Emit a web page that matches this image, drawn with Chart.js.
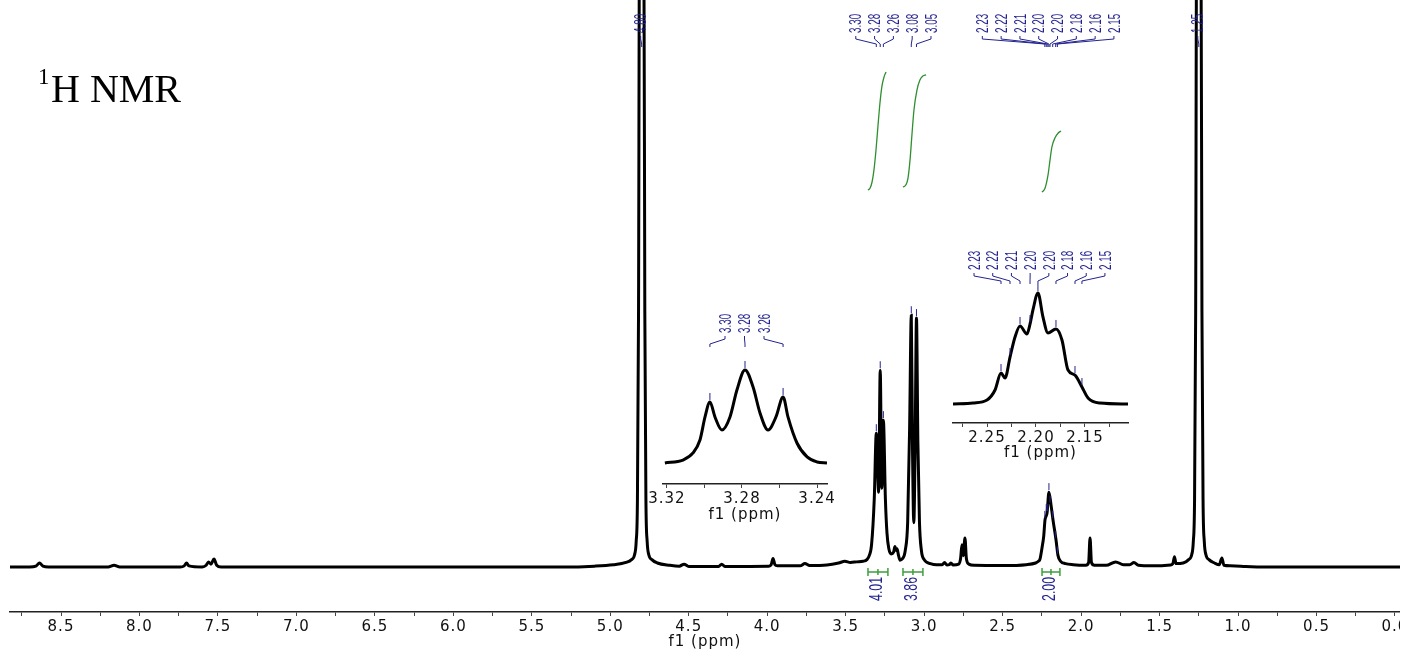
<!DOCTYPE html>
<html>
<head>
<meta charset="utf-8">
<script src="https://cdn.jsdelivr.net/npm/chart.js@4.4.1/dist/chart.umd.min.js"></script>
<style>
  html, body { margin: 0; padding: 0; background: #fff; }
  #wrap { position: relative; width: 1408px; height: 650px; overflow: hidden; }
  #main { position: absolute; left: 0; top: 0; width: 1400px; height: 650px; overflow: hidden; }
  #ins1 { position: absolute; left: 640px; top: 305px; }
  #ins2 { position: absolute; left: 925px; top: 245px; }
  .sup { position: absolute; left: 38px; top: 65px; font: 23px "Liberation Serif", "Times New Roman", serif; line-height: 1; }
  .ttl { position: absolute; left: 51px; top: 69px; font: 40px "Liberation Serif", "Times New Roman", serif; line-height: 1; }
</style>
</head>
<body>
<div id="wrap">
  <div id="main"><canvas id="c0" width="1412" height="650"></canvas></div>
  <div id="ins1"><canvas id="c1" width="210" height="218"></canvas></div>
  <div id="ins2"><canvas id="c2" width="225" height="216"></canvas></div>
  <span class="sup">1</span><span class="ttl">H NMR</span>
</div>
<script>
// 1H spectrum: [shift (ppm), relative intensity]
const spectrum = [
  [8.825, 0], [8.70, 0], [8.66, 0.15], [8.637, 0.7], [8.615, 0.15], [8.58, 0],
  [8.20, 0], [8.162, 0.3], [8.125, 0],
  [7.74, 0], [7.715, 0.2], [7.70, 0.7], [7.685, 0.2],
  [7.60, 0], [7.575, 0.3], [7.56, 0.9], [7.545, 0.5], [7.525, 1.4], [7.508, 0.3], [7.48, 0],
  [5.30, 0], [5.10, 0.15], [4.98, 0.4], [4.90, 0.8], [4.865, 1.3], [4.845, 2.2], [4.835, 4.5],
  [4.827, 12], [4.820, 45], [4.814, 110], [4.786, 110], [4.780, 45], [4.773, 12],
  [4.765, 4.5], [4.755, 2.2], [4.735, 1.3], [4.70, 0.7], [4.62, 0.3],
  [4.56, 0.15], [4.53, 0.5], [4.50, 0.1],
  [4.31, 0.1], [4.29, 0.5], [4.27, 0.1],
  [3.99, 0.15], [3.975, 0.4], [3.963, 1.5], [3.951, 0.4], [3.935, 0.2],
  [3.79, 0.2], [3.76, 0.6], [3.73, 0.25],
  [3.62, 0.35], [3.545, 0.7], [3.505, 1.0], [3.47, 0.8], [3.43, 0.9], [3.39, 1.0],
  [3.365, 1.3], [3.35, 2.0], [3.335, 4],
  [3.318, 12], [3.305, 23.6], [3.29, 13.2], [3.28, 34.7], [3.27, 13.9], [3.26, 25.9],
  [3.247, 12], [3.237, 6], [3.225, 3.2],
  [3.21, 2.3], [3.195, 2.6], [3.186, 3.6], [3.179, 2.9], [3.173, 3.2], [3.163, 2.0],
  [3.154, 1.2], [3.14, 1.4],
  [3.12, 3], [3.105, 8], [3.093, 24], [3.082, 44.4], [3.074, 20], [3.066, 7.8],
  [3.058, 20], [3.049, 43.9], [3.040, 22], [3.03, 8], [3.018, 3], [3.00, 1.3],
  [2.96, 0.6], [2.92, 0.4], [2.885, 0.4], [2.87, 0.8], [2.855, 0.35], [2.84, 0.4],
  [2.83, 0.7], [2.815, 0.35],
  [2.78, 0.5], [2.768, 1.5], [2.759, 3.9], [2.751, 2.0], [2.740, 5.1], [2.731, 1.5],
  [2.715, 0.5], [2.68, 0.3],
  [2.50, 0.25], [2.35, 0.4], [2.29, 0.7], [2.272, 1.0], [2.262, 1.4], [2.249, 3.4],
  [2.238, 5.5], [2.230, 8.3], [2.217, 9.5], [2.205, 13.2], [2.192, 11], [2.179, 8.3],
  [2.160, 4.8], [2.147, 2.0], [2.13, 1.0], [2.10, 0.6], [2.05, 0.4],
  [1.97, 0.3], [1.952, 0.8], [1.943, 5.1], [1.934, 0.8], [1.915, 0.3],
  [1.84, 0.3], [1.78, 0.9], [1.73, 0.4], [1.69, 0.4], [1.663, 0.8], [1.635, 0.3], [1.55, 0.2],
  [1.43, 0.35], [1.415, 0.6], [1.405, 1.8], [1.395, 0.6],
  [1.35, 0.7], [1.315, 1.3], [1.295, 2.2], [1.285, 4.5], [1.277, 12], [1.270, 45],
  [1.264, 110], [1.236, 110], [1.230, 45], [1.223, 12], [1.215, 4.5], [1.205, 2.2],
  [1.185, 1.3], [1.15, 0.7],
  [1.12, 0.4], [1.103, 1.6], [1.09, 0.3],
  [1.05, 0.2], [0.95, 0.1], [0.85, 0], [-0.032, 0]
];

// integral curves (same intensity units as the spectrum)
const integral1 = [[3.358, 66.5], [3.345, 66.8], [3.332, 67.9], [3.320, 70.0], [3.307, 73.5],
  [3.294, 77.9], [3.281, 82.0], [3.269, 84.8], [3.256, 86.4], [3.243, 87.3]];
const integral2 = [[3.135, 67.0], [3.116, 67.4], [3.103, 68.6], [3.090, 71.8], [3.078, 76.2],
  [3.065, 80.6], [3.046, 84.1], [3.027, 85.9], [3.008, 86.6], [2.988, 86.8]];
const integral3 = [[2.249, 66.1], [2.230, 66.8], [2.211, 69.1], [2.198, 71.8], [2.186, 74.1],
  [2.166, 75.7], [2.147, 76.5], [2.128, 76.9]];
const integralRanges = [[3.358, 3.231], [3.135, 3.008], [2.249, 2.135]];
const integralText = ['4.01', '3.86', '2.00'];

// picked peaks
const peakPpm = [[4.80], [3.305, 3.28, 3.26, 3.082, 3.049],
  [2.231, 2.222, 2.212, 2.205, 2.198, 2.181, 2.162, 2.151], [1.25]];
const peakText = [['4.80'], ['3.30', '3.28', '3.26', '3.08', '3.05'],
  ['2.23', '2.22', '2.21', '2.20', '2.20', '2.18', '2.16', '2.15'], ['1.25']];

// inset 1: triplet near 3.28
const inset1 = [[3.3211, 0], [3.3115, 3.2], [3.3061, 10.8], [3.3024, 24.7], [3.2997, 49.5],
  [3.2971, 65.6], [3.2944, 49.5], [3.2907, 35.5], [3.2864, 49.5], [3.2827, 78.5],
  [3.2784, 100], [3.2741, 81.7], [3.2704, 53.8], [3.2661, 35.5], [3.2619, 49.5],
  [3.2581, 71], [3.2555, 49.5], [3.2507, 21.5], [3.2453, 6.5], [3.24, 1.1], [3.2347, 0]];
const inset1Peaks = [3.2971, 3.2784, 3.2581];
const inset1Text = ['3.30', '3.28', '3.26'];

// inset 2: multiplet near 2.20
const inset2 = [[2.2847, 0], [2.2643, 0.9], [2.25, 3.6], [2.2418, 12.6], [2.2357, 27.9],
  [2.2316, 23.4], [2.2265, 42.3], [2.2214, 60.4], [2.2163, 70.3], [2.2092, 63.1],
  [2.2061, 72], [2.2031, 84.7], [2.198, 100], [2.1929, 78.4], [2.1878, 64], [2.1796, 67.6],
  [2.1735, 57.7], [2.1673, 30.6], [2.1602, 26.1], [2.1531, 15.3], [2.1469, 5.4],
  [2.1347, 0.9], [2.1061, 0]];
const inset2Peaks = [2.2357, 2.2265, 2.2163, 2.2061, 2.198, 2.1796, 2.1602, 2.1531];
const inset2Text = ['2.23', '2.22', '2.21', '2.20', '2.20', '2.18', '2.16', '2.15'];

const BLUE = '#23238f';
const GREEN = '#3f9f3f';
const AXIS_FONT = { family: '"DejaVu Sans", Verdana, sans-serif', size: 15, lineHeight: 1.1 };

const toXY = arr => arr.map(([x, y]) => ({ x, y }));

function vText(ctx, s, x, yBottom, size, squeeze) {
  ctx.save();
  ctx.letterSpacing = '0px';
  ctx.translate(x, yBottom);
  ctx.rotate(-Math.PI / 2);
  ctx.scale(squeeze, 1);
  ctx.font = size + 'px "Liberation Sans", Arial, sans-serif';
  ctx.fillStyle = BLUE;
  ctx.textAlign = 'left';
  ctx.textBaseline = 'middle';
  ctx.fillText(s, 0, 1);
  ctx.restore();
}

function nearestY(data, p) {
  let best = data[0];
  for (const d of data) if (Math.abs(d.x - p) < Math.abs(best.x - p)) best = d;
  return best.y;
}

function drawGroup(chart, ppms, texts, st) {
  const { ctx } = chart;
  const xs = chart.scales.x, ys = chart.scales.y;
  const data = chart.data.datasets[0].data;
  const px = ppms.map(p => xs.getPixelForValue(p));
  const mid = (Math.min(...px) + Math.max(...px)) / 2 + st.shift;
  const n = ppms.length;
  const tb = st.textBottom;
  ctx.save();
  ctx.strokeStyle = BLUE;
  ctx.lineWidth = 1;
  ppms.forEach((p, i) => {
    const lx = n === 1 ? px[i] - 1 : mid + (i - (n - 1) / 2) * st.gap;
    vText(ctx, texts[i], lx, tb, st.size, st.squeeze);
    ctx.beginPath();
    ctx.moveTo(lx, tb + 3);
    ctx.lineTo(lx, tb + 6);
    ctx.lineTo(px[i], tb + 11);
    ctx.lineTo(px[i], tb + 14);
    ctx.stroke();
    const top = ys.getPixelForValue(nearestY(data, p));
    if (top > st.minTop) {
      ctx.beginPath();
      ctx.moveTo(px[i], top - 9);
      ctx.lineTo(px[i], top - 2);
      ctx.stroke();
    }
  });
  ctx.restore();
}

const spacing = {
  id: 'spacing',
  beforeLayout(c) { c.ctx.letterSpacing = '1px'; },
  beforeDraw(c) { c.ctx.letterSpacing = '1px'; }
};

function xAxis(min, max, step, boxHeight, labelFn) {
  return {
    type: 'linear', reverse: true, min, max,
    afterFit: s => { s.height = boxHeight; },
    border: { color: '#222', width: 1.5 },
    grid: { drawOnChartArea: false, color: '#444', tickLength: 4, lineWidth: 1 },
    ticks: {
      stepSize: step, includeBounds: false, autoSkip: false, maxRotation: 0,
      padding: 3, color: '#111', font: AXIS_FONT, callback: labelFn
    },
    title: { display: true, text: 'f1 (ppm)', color: '#111', padding: 0, font: AXIS_FONT }
  };
}

const common = {
  responsive: false,
  animation: false,
  events: [],
  plugins: { legend: { display: false }, tooltip: { enabled: false } }
};

const lineSet = (data, color, width) => ({
  data: toXY(data), borderColor: color, borderWidth: width, pointRadius: 0,
  fill: false, cubicInterpolationMode: 'monotone'
});

// main spectrum
new Chart(document.getElementById('c0'), {
  type: 'line',
  data: {
    datasets: [
      lineSet(spectrum, '#000', 3),
      lineSet(integral1, '#2f8f2f', 1.3),
      lineSet(integral2, '#2f8f2f', 1.3),
      lineSet(integral3, '#2f8f2f', 1.3)
    ]
  },
  options: {
    ...common,
    layout: { padding: { left: 10, right: 12, top: 0, bottom: 0 } },
    scales: {
      x: xAxis(-0.032, 8.825, 0.25, 38,
        v => Math.abs(v * 2 - Math.round(v * 2)) < 1e-6 ? v.toFixed(1) : ''),
      y: { display: false, min: -7.94, max: 100 }
    }
  },
  plugins: [spacing, {
    id: 'annotations',
    afterDatasetsDraw(chart) {
      const st = { textBottom: 33, size: 17, squeeze: 0.58, gap: 18.8, shift: -3, minTop: 60 };
      peakPpm.forEach((g, k) => drawGroup(chart, g, peakText[k], st));
      const { ctx } = chart;
      const xs = chart.scales.x, ys = chart.scales.y;
      const yb = ys.getPixelForValue(0) + 5;
      ctx.save();
      ctx.strokeStyle = GREEN;
      ctx.lineWidth = 1.5;
      integralRanges.forEach(([a, b], i) => {
        const x1 = xs.getPixelForValue(a), x2 = xs.getPixelForValue(b);
        ctx.beginPath();
        ctx.moveTo(x1, yb); ctx.lineTo(x2, yb);
        ctx.moveTo(x1, yb - 4); ctx.lineTo(x1, yb + 4);
        ctx.moveTo(x2, yb - 4); ctx.lineTo(x2, yb + 4);
        ctx.moveTo((x1 + x2) / 2, yb - 3); ctx.lineTo((x1 + x2) / 2, yb + 3);
        ctx.stroke();
        vText(ctx, integralText[i], (x1 + x2) / 2 - 2, yb + 29, 19, 0.65);
      });
      ctx.restore();
    }
  }]
});

// inset 1
new Chart(document.getElementById('c1'), {
  type: 'line',
  data: { datasets: [lineSet(inset1, '#000', 3)] },
  options: {
    ...common,
    layout: { padding: { left: 23, right: 23, top: 45, bottom: 0 } },
    scales: {
      x: xAxis(3.2347, 3.3221, 0.02, 39,
        v => Math.round(v * 100) % 4 === 0 ? v.toFixed(2) : ''),
      y: { display: false, min: -22.6, max: 121.5 }
    }
  },
  plugins: [spacing, {
    id: 'inset1Peaks',
    afterDatasetsDraw(chart) {
      drawGroup(chart, inset1Peaks, inset1Text,
        { textBottom: 28, size: 17, squeeze: 0.58, gap: 19.5, shift: -2, minTop: -1 });
    }
  }]
});

// inset 2
new Chart(document.getElementById('c2'), {
  type: 'line',
  data: { datasets: [lineSet(inset2, '#000', 3)] },
  options: {
    ...common,
    layout: { padding: { left: 28, right: 22, top: 40, bottom: 0 } },
    scales: {
      x: xAxis(2.1061, 2.2847, 0.025, 38,
        v => Math.round(v * 1000) % 50 === 0 ? v.toFixed(2) : ''),
      y: { display: false, min: -17.1, max: 107.2 }
    }
  },
  plugins: [spacing, {
    id: 'inset2Peaks',
    afterDatasetsDraw(chart) {
      drawGroup(chart, inset2Peaks, inset2Text,
        { textBottom: 25, size: 17, squeeze: 0.58, gap: 18.7, shift: -2, minTop: -1 });
    }
  }]
});
</script>
</body>
</html>
